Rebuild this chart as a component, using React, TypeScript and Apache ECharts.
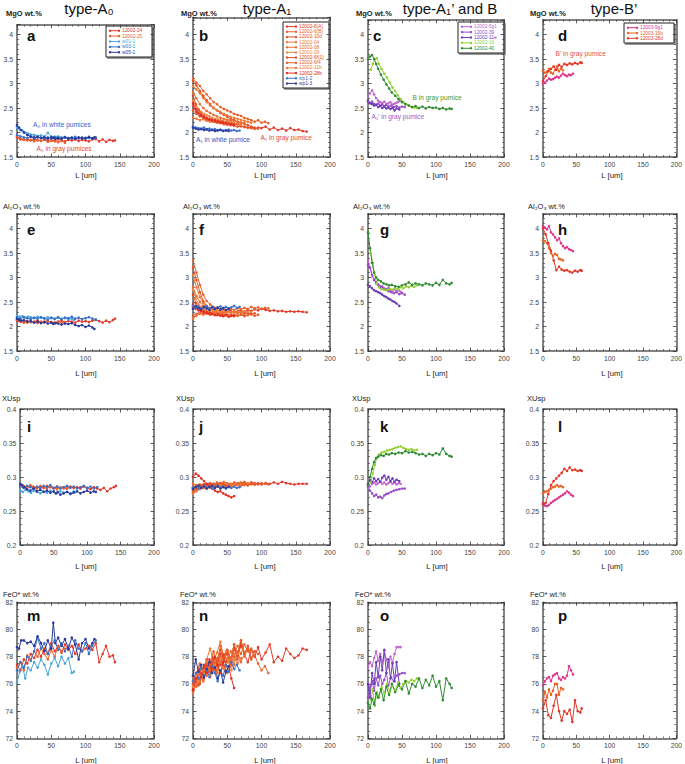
import { useEffect, useRef } from "react";
import * as echarts from "echarts";

// ---------------- DATA ----------------
// Panel-independent tick labels / axis names
const colTitles = ["type-A₀", "type-A₁", "type-A₁’ and B", "type-B’"];
const rowNames = ["MgO wt.%", "Al₂O₃ wt.%", "XUsp", "FeO* wt.%"];
const panelLetters = ["a", "b", "c", "d", "e", "f", "g", "h", "i", "j", "k", "l", "m", "n", "o", "p"];
const xLabel = "L [um]";

// ---- type-A0 ----
const L_24 = [0, 5, 10, 15, 20, 25, 30, 35, 40, 45, 50, 55, 60, 65, 70, 75, 80, 85, 90, 95, 100, 105, 110, 115, 120, 125, 130, 135, 140, 143];
const MgO_24 = [1.90, 1.86, 1.85, 1.87, 1.84, 1.86, 1.85, 1.83, 1.86, 1.84, 1.85, 1.83, 1.86, 1.84, 1.82, 1.85, 1.84, 1.86, 1.83, 1.85, 1.84, 1.82, 1.86, 1.87, 1.82, 1.86, 1.81, 1.85, 1.83, 1.84];
const Al_24 = [2.12, 2.10, 2.08, 2.11, 2.09, 2.10, 2.12, 2.08, 2.10, 2.11, 2.09, 2.08, 2.10, 2.12, 2.09, 2.11, 2.10, 2.08, 2.12, 2.10, 2.11, 2.09, 2.12, 2.14, 2.11, 2.08, 2.12, 2.09, 2.13, 2.16];
const Xu_24 = [0.288, 0.286, 0.284, 0.287, 0.285, 0.283, 0.286, 0.284, 0.287, 0.285, 0.283, 0.286, 0.284, 0.285, 0.283, 0.286, 0.284, 0.285, 0.283, 0.286, 0.284, 0.282, 0.285, 0.283, 0.281, 0.284, 0.279, 0.283, 0.285, 0.287];
const FeO_24 = [77.4, 77.0, 77.8, 77.5, 78.2, 77.9, 78.5, 78.0, 78.6, 78.2, 79.0, 78.4, 78.8, 78.3, 78.9, 78.5, 78.8, 78.2, 78.9, 78.4, 78.6, 78.8, 78.5, 79.0, 77.6, 78.2, 78.8, 78.0, 78.1, 77.6];

const L_25 = [0, 5, 10, 15, 20, 25, 30, 35, 40, 45, 50, 55, 60, 65, 70];
const MgO_25 = [1.92, 1.88, 1.86, 1.84, 1.85, 1.82, 1.84, 1.83, 1.85, 1.81, 1.83, 1.82, 1.80, 1.83, 1.79];
const Al_25 = [2.14, 2.12, 2.10, 2.08, 2.11, 2.09, 2.07, 2.10, 2.08, 2.11, 2.09, 2.07, 2.10, 2.08, 2.09];
const Xu_25 = [0.290, 0.287, 0.285, 0.288, 0.286, 0.284, 0.287, 0.285, 0.283, 0.286, 0.284, 0.282, 0.285, 0.283, 0.284];
const FeO_25 = [77.2, 77.6, 77.0, 78.1, 77.8, 78.4, 78.0, 78.6, 78.2, 77.8, 78.5, 78.0, 78.8, 78.4, 78.6];

const L_w01 = [0, 4, 8, 12, 16, 20, 25, 30, 35, 40, 45, 50, 55, 60, 65, 70, 75, 80, 83];
const MgO_w01 = [2.10, 2.06, 2.04, 2.00, 1.98, 1.96, 1.95, 1.93, 1.94, 1.92, 1.99, 1.92, 1.91, 1.92, 1.90, 1.91, 1.89, 1.90, 1.88];
const Al_w01 = [2.22, 2.20, 2.21, 2.18, 2.20, 2.19, 2.17, 2.20, 2.18, 2.16, 2.19, 2.17, 2.15, 2.18, 2.16, 2.17, 2.15, 2.16, 2.14];
const Xu_w01 = [0.280, 0.278, 0.281, 0.279, 0.277, 0.280, 0.278, 0.276, 0.279, 0.277, 0.280, 0.278, 0.276, 0.279, 0.277, 0.278, 0.276, 0.279, 0.278];
const FeO_w01 = [76.1, 76.9, 77.3, 76.4, 77.2, 77.0, 77.6, 77.2, 77.8, 77.4, 76.7, 77.5, 77.9, 77.3, 78.0, 77.5, 77.9, 76.8, 76.9];

const L_w03 = [0, 5, 10, 15, 20, 25, 30, 35, 40, 45, 50, 55, 60, 65, 70, 75, 80, 85, 90, 95, 100, 105, 110, 115];
const MgO_w03 = [1.95, 1.92, 1.90, 1.89, 1.91, 1.88, 1.90, 1.89, 1.87, 1.90, 1.88, 1.91, 1.89, 1.87, 1.90, 1.88, 1.89, 1.91, 1.88, 1.90, 1.87, 1.89, 1.88, 1.90];
const Al_w03 = [2.18, 2.16, 2.19, 2.17, 2.15, 2.18, 2.16, 2.19, 2.17, 2.14, 2.18, 2.16, 2.19, 2.15, 2.18, 2.17, 2.20, 2.16, 2.18, 2.15, 2.17, 2.19, 2.16, 2.14];
const Xu_w03 = [0.286, 0.284, 0.287, 0.285, 0.283, 0.286, 0.284, 0.287, 0.285, 0.288, 0.284, 0.286, 0.283, 0.285, 0.287, 0.284, 0.286, 0.283, 0.285, 0.287, 0.284, 0.286, 0.283, 0.285];
const FeO_w03 = [77.0, 77.6, 77.2, 78.0, 77.7, 78.4, 79.4, 78.6, 79.0, 78.2, 78.8, 79.2, 78.5, 79.0, 78.4, 78.8, 78.0, 79.2, 78.6, 78.4, 79.0, 78.2, 78.8, 79.2];

const L_w05 = [0, 3, 6, 10, 15, 20, 25, 30, 35, 40, 45, 50, 53, 56, 60, 65, 70, 75, 80, 85, 90, 95, 100, 105, 110, 113];
const MgO_w05 = [2.15, 2.10, 2.05, 2.00, 1.95, 1.92, 1.90, 1.91, 1.89, 1.90, 1.88, 1.90, 1.89, 1.87, 1.89, 1.88, 1.90, 1.88, 1.89, 1.87, 1.90, 1.88, 1.89, 1.91, 1.88, 1.90];
const Al_w05 = [2.16, 2.14, 2.12, 2.13, 2.10, 2.11, 2.08, 2.10, 2.07, 2.09, 2.06, 2.08, 2.05, 2.07, 2.06, 2.04, 2.06, 2.05, 2.07, 2.03, 2.01, 2.03, 1.99, 2.02, 1.98, 1.95];
const Xu_w05 = [0.290, 0.288, 0.285, 0.282, 0.280, 0.283, 0.279, 0.281, 0.278, 0.280, 0.277, 0.279, 0.276, 0.278, 0.274, 0.276, 0.278, 0.275, 0.277, 0.279, 0.276, 0.278, 0.280, 0.277, 0.279, 0.278];
const FeO_w05 = [78.7, 78.6, 79.2, 79.2, 79.0, 79.1, 78.8, 79.5, 79.0, 78.4, 79.2, 78.6, 80.5, 79.0, 79.4, 78.8, 79.3, 78.6, 79.4, 78.9, 77.8, 79.0, 79.3, 78.6, 79.0, 79.3];

// ---- type-A1 ----
const L_6A = [0, 5, 10, 15, 20, 25, 30, 35, 40, 45, 50, 55, 60, 65, 70, 75, 80, 85, 90, 95, 100, 106, 112, 118, 124, 130, 136, 142, 148, 154, 160, 166];
const MgO_6A = [2.55, 2.42, 2.35, 2.30, 2.25, 2.24, 2.22, 2.20, 2.21, 2.18, 2.19, 2.16, 2.15, 2.17, 2.13, 2.12, 2.10, 2.11, 2.08, 2.10, 2.09, 2.12, 2.06, 2.10, 2.05, 2.08, 2.04, 2.09, 2.05, 2.06, 2.03, 2.02];
const Al_6A = [2.45, 2.38, 2.34, 2.30, 2.28, 2.30, 2.27, 2.29, 2.31, 2.28, 2.30, 2.32, 2.29, 2.31, 2.33, 2.30, 2.34, 2.32, 2.35, 2.33, 2.36, 2.34, 2.32, 2.33, 2.31, 2.32, 2.30, 2.31, 2.30, 2.31, 2.30, 2.29];
const Xu_6A = [0.284, 0.286, 0.288, 0.287, 0.289, 0.288, 0.290, 0.289, 0.291, 0.288, 0.290, 0.289, 0.291, 0.290, 0.288, 0.291, 0.289, 0.292, 0.290, 0.291, 0.289, 0.291, 0.290, 0.292, 0.290, 0.293, 0.291, 0.290, 0.289, 0.290, 0.290, 0.290];
const FeO_6A = [75.8, 76.4, 76.9, 77.2, 76.8, 77.5, 77.9, 77.4, 78.2, 77.7, 78.4, 77.9, 78.6, 78.1, 78.8, 78.2, 77.6, 78.5, 78.0, 78.7, 77.8, 78.3, 78.9, 77.6, 78.0, 77.7, 78.6, 78.2, 77.9, 78.1, 78.6, 78.5];

const L_6B = [0, 5, 10, 15, 20, 25, 30, 35, 40, 45, 50, 55, 60, 65, 70, 75, 80, 85, 90, 95, 100, 105, 110];
const MgO_6B = [3.10, 3.02, 2.95, 2.85, 2.78, 2.70, 2.62, 2.58, 2.52, 2.48, 2.45, 2.42, 2.38, 2.36, 2.34, 2.30, 2.28, 2.25, 2.22, 2.25, 2.20, 2.22, 2.19];
const Al_6B = [3.35, 3.10, 2.85, 2.65, 2.52, 2.45, 2.40, 2.38, 2.36, 2.35, 2.33, 2.36, 2.34, 2.37, 2.35, 2.38, 2.36, 2.40, 2.37, 2.39, 2.36, 2.38, 2.37];
const Xu_6B = [0.285, 0.287, 0.289, 0.288, 0.290, 0.291, 0.289, 0.292, 0.290, 0.293, 0.291, 0.289, 0.292, 0.290, 0.291, 0.293, 0.290, 0.292, 0.291, 0.289, 0.291, 0.290, 0.289];
const FeO_6B = [76.0, 76.5, 76.2, 77.0, 76.6, 77.4, 77.0, 77.8, 77.4, 78.2, 77.6, 78.4, 78.0, 78.8, 78.2, 78.9, 78.4, 78.6, 78.1, 77.5, 77.0, 77.3, 76.8];

const L_10d = [0, 5, 10, 15, 20, 25, 30, 35, 40, 45, 50, 55, 60, 65, 70, 75, 80, 85, 90];
const MgO_10d = [3.05, 2.96, 2.85, 2.75, 2.66, 2.58, 2.50, 2.45, 2.40, 2.36, 2.32, 2.28, 2.25, 2.22, 2.20, 2.18, 2.15, 2.12, 2.10];
const Al_10d = [3.20, 2.95, 2.70, 2.52, 2.42, 2.36, 2.33, 2.30, 2.32, 2.29, 2.31, 2.28, 2.30, 2.27, 2.29, 2.26, 2.28, 2.25, 2.27];
const Xu_10d = [0.278, 0.282, 0.285, 0.287, 0.286, 0.288, 0.290, 0.288, 0.291, 0.289, 0.287, 0.290, 0.288, 0.291, 0.289, 0.290, 0.288, 0.290, 0.289];
const FeO_10d = [75.5, 76.4, 76.0, 76.9, 77.5, 77.0, 77.8, 77.3, 78.5, 77.8, 78.2, 77.4, 78.6, 77.8, 79.0, 78.2, 78.8, 77.9, 78.4];

const L_04 = [0, 5, 10, 15, 20, 25, 30, 35, 40, 45, 50, 55, 60, 65, 70, 75, 80, 85];
const MgO_04 = [2.95, 2.88, 2.80, 2.70, 2.62, 2.55, 2.50, 2.46, 2.42, 2.38, 2.35, 2.32, 2.30, 2.28, 2.26, 2.24, 2.22, 2.20];
const Al_04 = [3.05, 2.80, 2.60, 2.48, 2.40, 2.35, 2.32, 2.34, 2.30, 2.33, 2.31, 2.29, 2.32, 2.30, 2.28, 2.31, 2.29, 2.30];
const Xu_04 = [0.282, 0.284, 0.286, 0.288, 0.287, 0.289, 0.288, 0.290, 0.289, 0.291, 0.288, 0.290, 0.289, 0.291, 0.292, 0.290, 0.291, 0.289];
const FeO_04 = [76.2, 76.8, 77.5, 77.0, 77.8, 78.6, 77.6, 78.3, 79.1, 77.9, 78.5, 77.8, 78.9, 78.2, 79.2, 78.0, 78.6, 78.4];

const L_08 = [0, 5, 10, 15, 20, 25, 30, 35, 40, 45, 50, 55, 60, 65, 70, 75];
const MgO_08 = [2.82, 2.70, 2.58, 2.50, 2.44, 2.40, 2.36, 2.33, 2.30, 2.28, 2.26, 2.25, 2.23, 2.22, 2.20, 2.19];
const Al_08 = [2.80, 2.62, 2.50, 2.42, 2.38, 2.35, 2.32, 2.30, 2.28, 2.26, 2.24, 2.23, 2.25, 2.22, 2.24, 2.23];
const Xu_08 = [0.290, 0.288, 0.286, 0.289, 0.287, 0.290, 0.288, 0.286, 0.289, 0.287, 0.290, 0.288, 0.286, 0.289, 0.287, 0.288];
const FeO_08 = [76.5, 75.8, 76.8, 76.2, 77.2, 76.6, 77.5, 77.0, 78.0, 77.2, 76.8, 77.9, 77.4, 78.4, 77.6, 78.2];

const L_09 = [0, 4, 8, 12, 16, 20, 24, 28, 32, 36, 40, 44, 48, 52, 56, 60];
const MgO_09 = [2.65, 2.55, 2.48, 2.42, 2.38, 2.35, 2.33, 2.30, 2.28, 2.27, 2.25, 2.24, 2.22, 2.23, 2.21, 2.20];
const Al_09 = [2.75, 2.58, 2.45, 2.40, 2.36, 2.33, 2.31, 2.34, 2.30, 2.32, 2.29, 2.31, 2.28, 2.30, 2.29, 2.28];
const Xu_09 = [0.276, 0.280, 0.283, 0.285, 0.284, 0.286, 0.285, 0.287, 0.286, 0.288, 0.286, 0.287, 0.285, 0.288, 0.286, 0.287];
const FeO_09 = [75.8, 76.6, 76.2, 77.2, 76.8, 77.6, 77.0, 78.2, 77.4, 76.8, 77.8, 77.2, 78.4, 77.6, 77.0, 77.8];

const L_6f1 = [0, 4, 8, 12, 16, 20, 24, 28, 32, 36, 40, 44, 48];
const MgO_6f1 = [2.75, 2.58, 2.46, 2.38, 2.33, 2.30, 2.28, 2.26, 2.25, 2.23, 2.22, 2.21, 2.20];
const Al_6f1 = [2.65, 2.48, 2.40, 2.35, 2.32, 2.30, 2.28, 2.27, 2.25, 2.26, 2.24, 2.25, 2.23];
const Xu_6f1 = [0.284, 0.286, 0.288, 0.287, 0.289, 0.288, 0.290, 0.289, 0.287, 0.290, 0.288, 0.289, 0.288];
const FeO_6f1 = [75.5, 76.2, 75.9, 76.8, 76.4, 77.3, 76.9, 77.6, 77.1, 77.9, 77.4, 78.1, 77.6];

const L_6f4 = [0, 5, 10, 15, 20, 25, 30, 35, 40, 45, 50, 55, 60, 65, 70, 75, 80, 85, 90, 95];
const MgO_6f4 = [2.45, 2.38, 2.33, 2.30, 2.27, 2.25, 2.22, 2.20, 2.19, 2.17, 2.16, 2.15, 2.14, 2.12, 2.13, 2.11, 2.10, 2.09, 2.08, 2.08];
const Al_6f4 = [2.22, 2.26, 2.28, 2.25, 2.27, 2.24, 2.26, 2.23, 2.25, 2.22, 2.24, 2.21, 2.23, 2.22, 2.24, 2.21, 2.23, 2.25, 2.22, 2.24];
const Xu_6f4 = [0.280, 0.283, 0.285, 0.284, 0.286, 0.285, 0.287, 0.286, 0.288, 0.287, 0.289, 0.288, 0.290, 0.289, 0.291, 0.290, 0.288, 0.290, 0.289, 0.290];
const FeO_6f4 = [76.0, 76.8, 77.4, 76.9, 77.8, 77.2, 78.4, 77.6, 78.8, 77.9, 78.5, 77.6, 78.9, 78.0, 79.2, 78.3, 78.6, 77.8, 78.4, 78.2];

const L_11b = [0, 5, 10, 15, 20, 25, 30, 35, 40, 45, 50, 55, 60, 65, 70];
const MgO_11b = [2.30, 2.28, 2.25, 2.27, 2.24, 2.22, 2.23, 2.20, 2.21, 2.19, 2.18, 2.20, 2.17, 2.18, 2.16];
const Al_11b = [2.16, 2.22, 2.26, 2.24, 2.27, 2.25, 2.28, 2.26, 2.29, 2.27, 2.30, 2.28, 2.31, 2.29, 2.30];
const Xu_11b = [0.276, 0.279, 0.282, 0.284, 0.283, 0.285, 0.287, 0.286, 0.288, 0.287, 0.289, 0.288, 0.290, 0.288, 0.289];
const FeO_11b = [75.3, 76.0, 76.6, 76.2, 77.0, 76.5, 77.3, 76.8, 77.6, 77.1, 77.9, 77.3, 78.2, 77.5, 77.9];

const L_28b = [0, 4, 8, 12, 16, 20, 24, 28, 32, 36, 40, 44, 48, 52, 56, 60];
const MgO_28b = [2.60, 2.48, 2.40, 2.35, 2.32, 2.29, 2.27, 2.25, 2.24, 2.22, 2.21, 2.20, 2.19, 2.18, 2.17, 2.16];
const Al_28b = [2.40, 2.36, 2.33, 2.31, 2.29, 2.27, 2.26, 2.25, 2.23, 2.24, 2.22, 2.21, 2.23, 2.20, 2.22, 2.21];
const Xu_28b = [0.300, 0.305, 0.302, 0.298, 0.294, 0.290, 0.286, 0.283, 0.280, 0.278, 0.279, 0.276, 0.274, 0.272, 0.270, 0.272];
const FeO_28b = [75.6, 76.4, 77.0, 76.5, 77.4, 76.9, 77.8, 77.2, 78.0, 77.4, 76.8, 77.6, 76.9, 77.3, 76.4, 75.7];

const L_wp2 = [0, 4, 8, 12, 16, 20, 24, 28, 32, 36, 40, 44, 48, 52, 56, 60, 64, 68];
const MgO_wp2 = [2.12, 2.10, 2.09, 2.08, 2.10, 2.07, 2.08, 2.06, 2.07, 2.05, 2.06, 2.04, 2.05, 2.06, 2.04, 2.05, 2.03, 2.04];
const Al_wp2 = [2.42, 2.38, 2.40, 2.37, 2.39, 2.41, 2.38, 2.40, 2.36, 2.39, 2.41, 2.38, 2.40, 2.37, 2.39, 2.42, 2.38, 2.40];
const Xu_wp2 = [0.284, 0.286, 0.283, 0.285, 0.287, 0.284, 0.286, 0.283, 0.285, 0.287, 0.284, 0.286, 0.283, 0.285, 0.284, 0.286, 0.284, 0.285];
const FeO_wp2 = [76.2, 76.8, 76.4, 77.2, 76.6, 77.0, 76.5, 77.3, 76.8, 76.2, 77.0, 76.6, 77.4, 76.9, 77.6, 77.1, 77.4, 77.0];

const L_wp3 = [0, 4, 8, 12, 16, 20, 24, 28, 32, 36, 40, 44, 48, 52];
const MgO_wp3 = [2.10, 2.08, 2.06, 2.07, 2.05, 2.06, 2.04, 2.05, 2.03, 2.04, 2.05, 2.03, 2.04, 2.03];
const Al_wp3 = [2.36, 2.42, 2.38, 2.35, 2.40, 2.37, 2.34, 2.39, 2.36, 2.38, 2.35, 2.37, 2.34, 2.36];
const Xu_wp3 = [0.282, 0.285, 0.287, 0.284, 0.286, 0.283, 0.285, 0.287, 0.284, 0.286, 0.283, 0.285, 0.284, 0.286];
const FeO_wp3 = [76.6, 77.8, 76.9, 77.4, 76.5, 77.1, 77.6, 76.8, 77.2, 76.4, 77.0, 76.1, 76.9, 77.3];

// ---- type-A1' and B ----
const L_5g1 = [0, 3, 6, 9, 12, 15, 18, 21, 24, 27, 30, 33, 36, 39, 42, 45, 48];
const MgO_5g1 = [2.75, 2.80, 2.86, 2.78, 2.70, 2.65, 2.62, 2.60, 2.63, 2.58, 2.60, 2.62, 2.57, 2.59, 2.61, 2.63, 2.66];
const Al_5g1 = [3.35, 3.20, 3.05, 2.95, 2.88, 2.85, 2.80, 2.82, 2.78, 2.76, 2.79, 2.75, 2.73, 2.76, 2.72, 2.74, 2.71];
const Xu_5g1 = [0.288, 0.286, 0.290, 0.292, 0.289, 0.291, 0.293, 0.290, 0.292, 0.289, 0.291, 0.293, 0.290, 0.292, 0.289, 0.291, 0.290];
const FeO_5g1 = [77.2, 77.6, 77.3, 77.9, 78.4, 77.7, 78.2, 77.5, 78.4, 77.8, 77.2, 78.0, 77.6, 78.2, 78.7, 78.7, 78.7];

const L_39 = [0, 3, 6, 9, 12, 15, 18, 21, 24, 27, 30, 34, 38, 42, 46, 50, 54];
const MgO_39 = [2.62, 2.60, 2.63, 2.58, 2.56, 2.59, 2.55, 2.57, 2.54, 2.56, 2.53, 2.55, 2.52, 2.54, 2.51, 2.53, 2.52];
const Al_39 = [3.25, 3.20, 3.05, 2.95, 2.90, 2.86, 2.82, 2.80, 2.77, 2.75, 2.72, 2.70, 2.68, 2.70, 2.66, 2.68, 2.65];
const Xu_39 = [0.285, 0.280, 0.276, 0.272, 0.274, 0.270, 0.271, 0.269, 0.273, 0.275, 0.276, 0.278, 0.280, 0.281, 0.282, 0.283, 0.283];
const FeO_39 = [75.0, 75.8, 76.2, 75.5, 76.4, 75.9, 76.6, 76.0, 76.3, 76.8, 75.9, 76.5, 76.2, 76.6, 76.7, 76.8, 76.8];

const L_11e = [0, 3, 6, 9, 12, 15, 18, 21, 24, 27, 30, 33, 36, 39, 42, 46];
const MgO_11e = [2.65, 2.60, 2.58, 2.55, 2.57, 2.52, 2.54, 2.50, 2.53, 2.49, 2.51, 2.48, 2.50, 2.45, 2.49, 2.47];
const Al_11e = [2.85, 2.82, 2.78, 2.74, 2.72, 2.70, 2.68, 2.65, 2.62, 2.60, 2.57, 2.55, 2.52, 2.50, 2.47, 2.42];
const Xu_11e = [0.290, 0.295, 0.292, 0.298, 0.294, 0.297, 0.293, 0.299, 0.302, 0.296, 0.300, 0.294, 0.298, 0.293, 0.296, 0.294];
const FeO_11e = [76.0, 75.0, 76.8, 76.0, 77.6, 76.5, 78.0, 77.0, 78.5, 76.8, 77.8, 76.4, 77.5, 76.2, 77.6, 76.0];

const L_16 = [4, 7, 10, 13, 16, 20, 24, 28, 32, 36, 40, 44, 48, 52, 56, 60, 64, 68, 72];
const MgO_16 = [3.28, 3.40, 3.48, 3.52, 3.40, 3.30, 3.20, 3.12, 3.02, 2.92, 2.85, 2.76, 2.68, 2.62, 2.58, 2.55, 2.52, 2.51, 2.50];
const Al_16 = [3.50, 3.30, 3.05, 2.88, 2.80, 2.76, 2.75, 2.74, 2.77, 2.75, 2.78, 2.76, 2.80, 2.78, 2.82, 2.80, 2.83, 2.81, 2.84];
const Xu_16 = [0.292, 0.305, 0.318, 0.328, 0.333, 0.336, 0.337, 0.339, 0.340, 0.341, 0.343, 0.344, 0.345, 0.343, 0.341, 0.340, 0.341, 0.339, 0.340];
const FeO_16 = [74.8, 75.6, 74.4, 75.4, 75.0, 75.8, 75.3, 76.0, 75.4, 75.9, 75.5, 76.1, 75.7, 76.0, 76.2, 76.1, 76.3, 76.2, 76.4];

const L_40 = [0, 3, 6, 9, 12, 15, 19, 23, 27, 31, 35, 40, 45, 50, 55, 60, 65, 70, 75, 80, 85, 90, 95, 100, 105, 110, 115, 120, 123];
const MgO_40 = [3.50, 3.55, 3.58, 3.50, 3.40, 3.30, 3.18, 3.08, 2.98, 2.90, 2.82, 2.75, 2.68, 2.62, 2.58, 2.55, 2.52, 2.54, 2.50, 2.53, 2.49, 2.52, 2.50, 2.51, 2.48, 2.50, 2.47, 2.49, 2.48];
const Al_40 = [3.92, 3.60, 3.30, 3.10, 3.00, 2.95, 2.92, 2.88, 2.86, 2.84, 2.85, 2.82, 2.81, 2.84, 2.86, 2.90, 2.85, 2.88, 2.86, 2.84, 2.88, 2.86, 2.84, 2.89, 2.85, 2.95, 2.88, 2.86, 2.89];
const Xu_40 = [0.288, 0.300, 0.312, 0.322, 0.328, 0.330, 0.332, 0.331, 0.334, 0.333, 0.335, 0.334, 0.336, 0.335, 0.338, 0.336, 0.337, 0.335, 0.333, 0.334, 0.331, 0.334, 0.332, 0.335, 0.333, 0.342, 0.334, 0.331, 0.330];
const FeO_40 = [74.6, 74.2, 74.9, 74.5, 75.3, 75.0, 75.6, 74.8, 75.8, 75.2, 76.0, 75.4, 75.9, 75.6, 76.2, 75.3, 76.0, 75.8, 76.4, 75.7, 76.3, 75.9, 76.6, 75.8, 76.2, 74.8, 76.4, 76.0, 75.7];

// ---- type-B' ----
const L_9g1 = [0, 3, 6, 9, 12, 15, 18, 21, 24, 27, 30, 33, 36, 39, 42, 45];
const MgO_9g1 = [3.00, 3.02, 3.06, 3.10, 3.08, 3.09, 3.12, 3.14, 3.12, 3.16, 3.20, 3.17, 3.15, 3.18, 3.17, 3.20];
const Al_9g1 = [4.05, 4.02, 3.98, 4.05, 3.92, 3.88, 3.82, 3.76, 3.80, 3.70, 3.64, 3.60, 3.62, 3.58, 3.56, 3.54];
const Xu_9g1 = [0.262, 0.258, 0.257, 0.259, 0.262, 0.264, 0.266, 0.268, 0.270, 0.272, 0.274, 0.276, 0.279, 0.277, 0.274, 0.272];
const FeO_9g1 = [75.9, 76.2, 76.4, 76.5, 76.2, 76.6, 76.7, 76.8, 76.4, 76.3, 76.5, 76.4, 76.6, 77.3, 77.0, 76.7];

const L_15b = [0, 3, 6, 9, 12, 15, 18, 21, 24, 27, 30];
const MgO_15b = [3.26, 3.22, 3.24, 3.30, 3.22, 3.20, 3.28, 3.35, 3.25, 3.30, 3.27];
const Al_15b = [3.76, 3.74, 3.70, 3.60, 3.50, 3.44, 3.48, 3.46, 3.38, 3.37, 3.35];
const Xu_15b = [0.276, 0.278, 0.279, 0.281, 0.283, 0.285, 0.286, 0.288, 0.286, 0.287, 0.285];
const FeO_15b = [74.8, 75.4, 75.0, 75.6, 75.2, 75.5, 76.0, 76.0, 75.2, 75.7, 75.6];

const L_28d = [0, 4, 8, 12, 16, 20, 24, 28, 32, 36, 40, 44, 48, 52, 56, 58];
const MgO_28d = [3.05, 3.15, 3.25, 3.30, 3.35, 3.28, 3.38, 3.34, 3.40, 3.38, 3.41, 3.39, 3.42, 3.40, 3.43, 3.42];
const Al_28d = [4.00, 3.88, 3.70, 3.55, 3.35, 3.15, 3.22, 3.16, 3.14, 3.15, 3.12, 3.10, 3.14, 3.12, 3.15, 3.14];
const Xu_28d = [0.260, 0.262, 0.275, 0.288, 0.294, 0.298, 0.302, 0.306, 0.312, 0.309, 0.314, 0.310, 0.311, 0.309, 0.310, 0.309];
const FeO_28d = [74.2, 74.8, 73.7, 73.5, 74.4, 75.2, 74.0, 73.3, 74.0, 73.8, 74.1, 73.2, 74.8, 74.0, 73.9, 74.2];

// ---------------- TABLES built from the arrays ----------------
type Sample = { name: string; color: string; L: number[]; v: number[][] };
const mk = (name: string, color: string, L: number[], a: number[], b: number[], c: number[], d: number[]): Sample => ({ name, color, L, v: [a, b, c, d] });

const groupA0: Sample[] = [
  mk("12002-24", "#e5392b", L_24, MgO_24, Al_24, Xu_24, FeO_24),
  mk("12002-25", "#e8622d", L_25, MgO_25, Al_25, Xu_25, FeO_25),
  mk("w01-1", "#4aa6dc", L_w01, MgO_w01, Al_w01, Xu_w01, FeO_w01),
  mk("w03-1", "#3a72c6", L_w03, MgO_w03, Al_w03, Xu_w03, FeO_w03),
  mk("w05-1", "#28389a", L_w05, MgO_w05, Al_w05, Xu_w05, FeO_w05),
];
const groupA1: Sample[] = [
  mk("12002-6(A)", "#e23b2b", L_6A, MgO_6A, Al_6A, Xu_6A, FeO_6A),
  mk("12002-6(B)", "#e8632b", L_6B, MgO_6B, Al_6B, Xu_6B, FeO_6B),
  mk("12002-10d", "#e2512a", L_10d, MgO_10d, Al_10d, Xu_10d, FeO_10d),
  mk("12002-04", "#ee7a33", L_04, MgO_04, Al_04, Xu_04, FeO_04),
  mk("12002-08", "#ea6c2c", L_08, MgO_08, Al_08, Xu_08, FeO_08),
  mk("12002-09", "#f08442", L_09, MgO_09, Al_09, Xu_09, FeO_09),
  mk("12002-6f(1)", "#dc4a29", L_6f1, MgO_6f1, Al_6f1, Xu_6f1, FeO_6f1),
  mk("12002-6f4", "#e65b2b", L_6f4, MgO_6f4, Al_6f4, Xu_6f4, FeO_6f4),
  mk("12002-11b", "#f27438", L_11b, MgO_11b, Al_11b, Xu_11b, FeO_11b),
  mk("12002-28b", "#e12e25", L_28b, MgO_28b, Al_28b, Xu_28b, FeO_28b),
  mk("wp1-2", "#3d72c8", L_wp2, MgO_wp2, Al_wp2, Xu_wp2, FeO_wp2),
  mk("wp1-3", "#2b3d9e", L_wp3, MgO_wp3, Al_wp3, Xu_wp3, FeO_wp3),
];
const groupA1B: Sample[] = [
  mk("12002-5g1", "#c466d4", L_5g1, MgO_5g1, Al_5g1, Xu_5g1, FeO_5g1),
  mk("12002-39", "#9a4ec8", L_39, MgO_39, Al_39, Xu_39, FeO_39),
  mk("12002-11e", "#6c3db2", L_11e, MgO_11e, Al_11e, Xu_11e, FeO_11e),
  mk("12002-16", "#94d035", L_16, MgO_16, Al_16, Xu_16, FeO_16),
  mk("12002-40", "#2f8c32", L_40, MgO_40, Al_40, Xu_40, FeO_40),
];
const groupB: Sample[] = [
  mk("12003-9g1", "#e0368e", L_9g1, MgO_9g1, Al_9g1, Xu_9g1, FeO_9g1),
  mk("12003-15b", "#e96424", L_15b, MgO_15b, Al_15b, Xu_15b, FeO_15b),
  mk("12003-28d", "#e23524", L_28d, MgO_28d, Al_28d, Xu_28d, FeO_28d),
];
const groups = [groupA0, groupA1, groupA1B, groupB];

// ---------------- LAYOUT ----------------
const FONT = "'Liberation Sans', Arial, Helvetica, sans-serif";
const colLeft = [17, 193, 368, 543];
const colWidth = [137, 137, 136, 137];
const rows = [
  { min: 1.5, interval: 0.5, minor: 5, bottom: 157, px: 49, max: [4.2, 4.35, 4.3, 4.3], showMax: false },
  { min: 1.5, interval: 0.5, minor: 5, bottom: 351, px: 49, max: [4.3, 4.3, 4.3, 4.3], showMax: false },
  { min: 0.2, interval: 0.05, minor: 5, bottom: 545, px: 680, max: [0.4, 0.4, 0.4, 0.4], showMax: true },
  { min: 72, interval: 2, minor: 4, bottom: 738.3, px: 13.6, max: [82, 82, 82, 82], showMax: true },
];
const nameX = [[6, 181, 356, 530], [3, 183, 353, 528], [2, 176, 352, 527], [3, 180, 355, 530]];
const nameY = [13, 206.7, 398, 594.5];
const letterX = [[27, 199, 373, 558], [27, 199, 380, 558], [27, 199, 380, 558], [27, 199, 380, 558]];
const letterY = [35.2, 229.2, 426.7, 615.4];
const xLabelX = [86, 265, 437, 612];
const xLabelY = [175, 373, 566, 760];
const titleX = [89, 267, 450, 614];

const legendBoxes = [
  { x: 106, y: 26, w: 46, h: 31 },
  { x: 283, y: 22, w: 46, h: 66 },
  { x: 458, y: 22, w: 46, h: 31 },
  { x: 624, y: 23, w: 50, h: 20 },
];

const annotations = [
  { text: "A₀ in white pumices", x: 33, y: 124.5, color: "#3b5ec8" },
  { text: "A₀ in gray pumices", x: 36.5, y: 148.5, color: "#e8453a" },
  { text: "A₁ in white pumice", x: 196, y: 139.7, color: "#3452c0" },
  { text: "A₁ in gray pumice", x: 260.5, y: 137, color: "#e8453a" },
  { text: "B in gray pumice", x: 412.5, y: 97.5, color: "#3c9a3c" },
  { text: "A₁’ in gray pumice", x: 371.5, y: 116, color: "#9a5ad0" },
  { text: "B’ in gray pumice", x: 555.5, y: 53.5, color: "#e8504a" },
];

function buildOption() {
  const grid: any[] = [];
  const xAxis: any[] = [];
  const yAxis: any[] = [];
  const series: any[] = [];
  const graphic: any[] = [];

  const lineCol = "#5a5a5a";
  const tickCol = "#333";

  rows.forEach((row, r) => {
    groups.forEach((samples, c) => {
      const g = r * 4 + c;
      const max = row.max[c];
      const top = row.bottom - (max - row.min) * row.px;
      grid.push({ left: colLeft[c], top, width: colWidth[c], height: row.bottom - top, show: false });
      const xBase = (pos: string, labels: boolean) => ({
        type: "value", gridIndex: g, min: 0, max: 200, interval: 50, position: pos,
        axisLine: { show: true, onZero: false, lineStyle: { color: lineCol, width: 1.5 } },
        axisTick: { show: true, inside: true, length: 3.5, lineStyle: { color: tickCol, width: 0.8 } },
        minorTick: { show: true, splitNumber: 5, length: 2, lineStyle: { color: tickCol, width: 0.6 } },
        axisLabel: { show: labels, fontSize: 6.8, color: "#444", margin: 4, fontFamily: FONT },
        splitLine: { show: false },
      });
      const yBase = (pos: string, labels: boolean) => ({
        type: "value", gridIndex: g, min: row.min, max, interval: row.interval, position: pos,
        axisLine: { show: true, onZero: false, lineStyle: { color: lineCol, width: 1.5 } },
        axisTick: { show: true, inside: true, length: 3.5, lineStyle: { color: tickCol, width: 0.8 } },
        minorTick: { show: true, splitNumber: row.minor, length: 2, lineStyle: { color: tickCol, width: 0.6 } },
        axisLabel: { show: labels, fontSize: 6.8, color: "#444", margin: 4, fontFamily: FONT, showMaxLabel: row.showMax, showMinLabel: true },
        splitLine: { show: false },
      });
      xAxis.push(xBase("bottom", true), xBase("top", false));
      yAxis.push(yBase("left", true), yBase("right", false));

      samples.forEach((s) => {
        series.push({
          type: "line", name: s.name, xAxisIndex: g * 2, yAxisIndex: g * 2,
          data: s.L.map((x, i) => [x, s.v[r][i]]),
          symbol: "circle", symbolSize: 2.6, showSymbol: true, silent: true,
          lineStyle: { color: s.color, width: 1 }, itemStyle: { color: s.color },
        });
      });

      // axis name
      graphic.push({
        type: "text", x: nameX[r][c], y: nameY[r], silent: true,
        style: { text: rowNames[r], fontSize: 7.5, fontFamily: FONT, fill: "#222", fontWeight: r === 0 ? "bold" : "normal", textVerticalAlign: "middle", textAlign: "left" },
      });
      // panel letter
      graphic.push({
        type: "text", x: letterX[r][c], y: letterY[r], silent: true,
        style: { text: panelLetters[g], fontSize: 15, fontWeight: "bold", fontFamily: FONT, fill: "#111", textVerticalAlign: "middle", textAlign: "left" },
      });
      // x label
      graphic.push({
        type: "text", x: xLabelX[c], y: xLabelY[r], silent: true,
        style: { text: xLabel, fontSize: 7.8, fontFamily: FONT, fill: "#222", textVerticalAlign: "middle", textAlign: "center" },
      });
    });
  });

  colTitles.forEach((t, c) => {
    graphic.push({
      type: "text", x: titleX[c], y: 8, silent: true,
      style: { text: t, fontSize: 15, fontFamily: FONT, fill: "#111", textVerticalAlign: "middle", textAlign: "center" },
    });
  });

  annotations.forEach((a) => {
    graphic.push({
      type: "text", x: a.x, y: a.y, silent: true,
      style: { text: a.text, fontSize: 6.6, fontFamily: FONT, fill: a.color, textVerticalAlign: "middle", textAlign: "left" },
    });
  });

  legendBoxes.forEach((b, c) => {
    const samples = groups[c];
    graphic.push({ type: "rect", silent: true, shape: { x: b.x + 1.5, y: b.y + 1.5, width: b.w, height: b.h }, style: { fill: "#999", stroke: "#999", lineWidth: 1 } });
    graphic.push({ type: "rect", silent: true, shape: { x: b.x, y: b.y, width: b.w, height: b.h }, style: { fill: "#fff", stroke: "#222", lineWidth: 1 } });
    const step = (b.h - 4) / samples.length;
    samples.forEach((s, i) => {
      const yy = b.y + 2 + step * (i + 0.5);
      graphic.push({ type: "line", silent: true, shape: { x1: b.x + 3, y1: yy, x2: b.x + 14, y2: yy }, style: { stroke: s.color, lineWidth: 1 } });
      graphic.push({ type: "circle", silent: true, shape: { cx: b.x + 4, cy: yy, r: 1.2 }, style: { fill: s.color } });
      graphic.push({ type: "circle", silent: true, shape: { cx: b.x + 13, cy: yy, r: 1.2 }, style: { fill: s.color } });
      graphic.push({
        type: "text", silent: true, x: b.x + 16, y: yy,
        style: { text: s.name, fontSize: 4.8, fontFamily: FONT, fill: s.color, textVerticalAlign: "middle", textAlign: "left" },
      });
    });
  });

  return { animation: false, backgroundColor: "#fff", grid, xAxis, yAxis, series, graphic };
}

export default function App() {
  const ref = useRef<HTMLDivElement>(null);
  useEffect(() => {
    if (!ref.current) return;
    const chart = echarts.init(ref.current, null, { renderer: "svg" });
    chart.setOption(buildOption() as any);
    return () => chart.dispose();
  }, []);
  return <div ref={ref} style={{ position: "absolute", left: 0, top: 0, width: 685, height: 764, background: "#fff" }} />;
}
